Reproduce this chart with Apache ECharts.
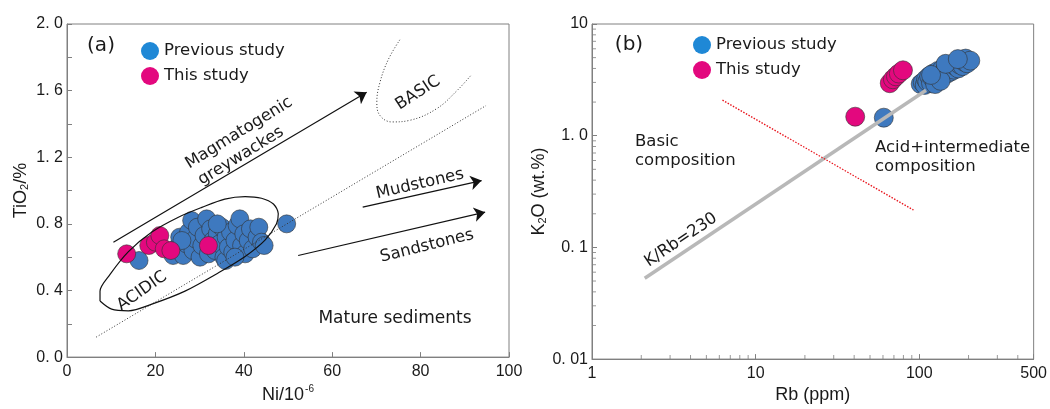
<!DOCTYPE html>
<html>
<head>
<meta charset="utf-8">
<script src="https://cdn.jsdelivr.net/npm/echarts@6/dist/echarts.min.js"></script>
<style>
  html, body { margin: 0; padding: 0; background: #fff; }
  #main { width: 1050px; height: 409px; }
</style>
</head>
<body>
<div id="main"></div>
<script>
// ---- panel (a): Ni vs TiO2 ----
var prevA = [
    [16.3, 0.58], [24, 0.61], [25, 0.66], [25.5, 0.72], [26.3, 0.61], [27, 0.68], [27.5, 0.75],
    [28.2, 0.82], [28.5, 0.64], [29, 0.71], [29.5, 0.78], [30.1, 0.60], [30.5, 0.67], [31, 0.73],
    [31.6, 0.83], [32, 0.62], [32.5, 0.77], [33, 0.70], [33.5, 0.64], [34, 0.74], [34.5, 0.68],
    [35, 0.78], [35.5, 0.60], [35.9, 0.58], [36, 0.72], [36.5, 0.66], [37, 0.75], [37.5, 0.63],
    [38, 0.70], [38.5, 0.79], [39.1, 0.83], [39.5, 0.67], [40, 0.74], [40.3, 0.62], [41, 0.70],
    [41.5, 0.77], [42, 0.65], [43, 0.72], [43.4, 0.78], [44, 0.69], [44.6, 0.67], [49.7, 0.80],
    [26, 0.70], [34, 0.80], [38, 0.60]
];
var thisA = [
    [13.5, 0.62], [18.5, 0.67], [20, 0.69], [21, 0.73], [22, 0.65], [23.5, 0.64], [32, 0.67]
];
var dividerA = [[6.6, 0.12], [94.8, 1.51]];
var basicCurve = [
    [75.3, 1.905], [72.7, 1.787], [70.8, 1.649], [70.1, 1.531], [70.8, 1.451], [73.5, 1.412],
    [77.6, 1.422], [83.6, 1.491], [88.2, 1.599], [91.6, 1.698]
];
var acidicField = [
    [7.47, 0.337], [10.1, 0.288], [13.9, 0.278], [19.2, 0.318], [26.7, 0.396], [34.2, 0.505],
    [40.3, 0.604], [44.8, 0.702], [47.4, 0.801], [47.8, 0.860], [46.7, 0.919], [44.0, 0.954],
    [40.3, 0.964], [35.7, 0.949], [30.5, 0.899], [25.2, 0.840], [19.2, 0.751], [13.9, 0.633],
    [9.7, 0.495], [7.47, 0.396], [7.47, 0.337]
];
var arrowsA = [
    [[10.5, 0.69], [67.8, 1.59]],   // magmatogenic greywackes
    [[66.9, 0.90], [93.8, 1.06]],   // mudstones
    [[52.3, 0.61], [94.6, 0.87]]    // sandstones
];

// ---- panel (b): Rb vs K2O ----
var prevB = [
    [60.7, 1.45],
    [102, 2.9], [105, 3.0], [108, 2.85], [110, 3.2], [112, 3.05], [115, 3.4], [118, 2.95],
    [120, 3.3], [122, 3.6], [125, 3.15], [128, 3.5], [130, 3.8], [132, 3.3], [135, 3.65],
    [138, 3.95], [140, 3.45], [143, 3.8], [146, 4.1], [148, 3.6], [150, 3.9], [153, 4.2],
    [156, 3.75], [158, 4.05], [160, 4.35], [163, 3.9], [166, 4.2], [170, 4.5], [173, 4.0],
    [176, 4.35], [180, 4.7], [184, 4.2], [188, 4.6], [192, 4.9], [196, 4.45], [205, 4.7],
    [125, 2.9], [135, 3.1], [118, 3.5], [145, 4.4], [172, 4.85]
];
var thisB = [[40.6, 1.48], [66, 2.95], [69, 3.2], [72, 3.4], [75, 3.6], [79.5, 3.85]];
var kRbLine = [[2.1, 0.053], [110, 2.55]];
var dividerB = [[6.27, 2.08], [92.2, 0.216]];

var yLabelsB = { '-2': '0. 01', '-1': '0. 1', '0': '1. 0', '1': '10' };
var minorX = [2, 3, 4, 5, 6, 7, 8, 9, 20, 30, 40, 50, 60, 70, 80, 90, 200, 300, 400];
var minorY = [0.02, 0.03, 0.04, 0.05, 0.06, 0.07, 0.08, 0.09, 0.2, 0.3, 0.4, 0.5, 0.6, 0.7, 0.8, 0.9,
    2, 3, 4, 5, 6, 7, 8, 9];

var FONT = 'Liberation Sans';
var TEXT = 'DejaVu Sans';
var INK = '#1a1a1a';
var AXIS = '#808080';
var BLUE = '#3e79bf';
var PINK = '#e3087e';

var nameRich = {
    n: { fontFamily: FONT, fontSize: 18, color: INK },
    sup: { fontFamily: FONT, fontSize: 10, color: INK, verticalAlign: 'top', padding: [0, 0, 12, 1] },
    sub: { fontFamily: FONT, fontSize: 11, color: INK, verticalAlign: 'bottom', padding: [6, 0, 0, 0] }
};

function baseAxis(gridIndex) {
    return {
        gridIndex: gridIndex,
        axisLine: { show: true, onZero: false, lineStyle: { color: AXIS, width: 1 } },
        axisTick: { show: true, inside: true, length: 5, lineStyle: { color: AXIS } },
        axisLabel: { color: INK, fontFamily: FONT, fontSize: 16 },
        splitLine: { show: false },
        nameLocation: 'middle',
        nameTextStyle: { color: INK, fontFamily: FONT, fontSize: 18, rich: nameRich }
    };
}

var dom = document.getElementById('main');
var myChart = echarts.init(dom);

var xA = baseAxis(0);
xA.type = 'value'; xA.min = 0; xA.max = 100; xA.interval = 20;
xA.axisLabel.margin = 6;
xA.name = '{n|Ni/10}{sup|-6}'; xA.nameGap = 24;

var yA = baseAxis(0);
yA.type = 'value'; yA.min = 0; yA.max = 2; yA.interval = 0.4;
yA.minorTick = { show: true, splitNumber: 2, length: 5, lineStyle: { color: AXIS } };
yA.axisLabel.margin = 4;
yA.axisLabel.formatter = function (v) { return v.toFixed(1).replace('.', '. '); };
yA.name = '{n|TiO}{sub|2}{n|/%}'; yA.nameGap = 37;

var xB = baseAxis(1);
xB.type = 'log'; xB.logBase = 10; xB.min = 1; xB.max = 500;
xB.axisLabel.margin = 6;
xB.axisLabel.showMaxLabel = true;
xB.axisLabel.formatter = function (v) { return String(Math.round(v)); };
xB.name = '{n|Rb (ppm)}'; xB.nameGap = 24;

var yB = baseAxis(1);
yB.type = 'log'; yB.logBase = 10; yB.min = 0.01; yB.max = 10;
yB.axisLabel.margin = 4;
yB.axisLabel.formatter = function (v) { return yLabelsB[String(Math.round(Math.log10(v)))] || ''; };
yB.name = '{n|K}{sub|2}{n|O (wt.%)}'; yB.nameGap = 33;

var scatterStyle = function (color) {
    return { color: color, borderColor: '#333', borderWidth: 0.6, opacity: 1 };
};
var legendData = [
    { name: 'Previous study', itemStyle: { color: '#1f88d6', borderWidth: 0 } },
    { name: 'This study', itemStyle: { color: PINK, borderWidth: 0 } }
];
var legendBase = {
    orient: 'vertical', icon: 'circle', itemWidth: 18, itemHeight: 18, itemGap: 7, itemStyle: { borderWidth: 0 },
    textStyle: { color: INK, fontFamily: TEXT, fontSize: 16.5 },
    selectedMode: false, data: legendData
};

function textEl(x, y, str, deg, size, align) {
    return {
        type: 'text', x: x, y: y, rotation: (deg || 0) * Math.PI / 180, z: 100,
        style: {
            text: str, fill: INK, font: (size || 16.5) + 'px "' + TEXT + '"',
            align: align || 'center', verticalAlign: 'middle', lineHeight: 19
        }
    };
}

// small log-axis minor ticks, placed through the axis scales
function tickSeries(data, size, offset) {
    return {
        type: 'scatter', xAxisIndex: 1, yAxisIndex: 1, data: data, silent: true, clip: false,
        symbol: 'rect', symbolSize: size, symbolOffset: offset, z: 1,
        itemStyle: { color: AXIS, borderWidth: 0 }
    };
}

var option = {
    animation: false,
    backgroundColor: '#fff',
    grid: [
        { left: 67, top: 24, width: 442, height: 338, show: true, borderColor: AXIS, borderWidth: 1 },
        { left: 592, top: 24, width: 447, height: 338, show: true, borderColor: AXIS, borderWidth: 1 }
    ],
    xAxis: [xA, xB],
    yAxis: [yA, yB],
    legend: [
        Object.assign({ left: 136, top: 37 }, legendBase),
        Object.assign({ left: 688, top: 31 }, legendBase)
    ],
    graphic: [
        textEl(101, 46, '(a)', 0, 20),
        textEl(239, 133, 'Magmatogenic', 31.6),
        textEl(241, 156, 'greywackes', 31.6),
        textEl(418, 93, 'BASIC', 33),
        textEl(420, 184, 'Mudstones', 13),
        textEl(427, 246, 'Sandstones', 14),
        textEl(142, 291, 'ACIDIC', 35),
        textEl(395, 319, 'Mature sediments', 0, 17),
        textEl(629, 45, '(b)', 0, 20),
        textEl(635, 151, 'Basic\ncomposition', 0, 16.5, 'left'),
        textEl(875, 157, 'Acid+intermediate\ncomposition', 0, 16.5, 'left'),
        textEl(681, 240, 'K/Rb=230', 34)
    ],
    series: [
        // panel (a) field lines
        { type: 'line', xAxisIndex: 0, yAxisIndex: 0, data: dividerA, symbol: 'none', silent: true,
          lineStyle: { color: '#333', width: 1, type: [1, 2] } },
        { type: 'line', xAxisIndex: 0, yAxisIndex: 0, data: basicCurve, symbol: 'none', smooth: 0.4, silent: true,
          lineStyle: { color: '#333', width: 1, type: [1, 2] } },
        { type: 'lines', coordinateSystem: 'cartesian2d', xAxisIndex: 0, yAxisIndex: 0, silent: true,
          symbol: ['none', 'arrow'], symbolSize: [0, 11],
          lineStyle: { color: '#111', width: 1.2, opacity: 1, curveness: 0 },
          data: arrowsA.map(function (c) { return { coords: c }; }) },
        { name: 'Previous study', type: 'scatter', xAxisIndex: 0, yAxisIndex: 0, data: prevA,
          symbolSize: 18, itemStyle: scatterStyle(BLUE) },
        { name: 'This study', type: 'scatter', xAxisIndex: 0, yAxisIndex: 0, data: thisA,
          symbolSize: 18, itemStyle: scatterStyle(PINK) },
        { type: 'line', xAxisIndex: 0, yAxisIndex: 0, data: acidicField, symbol: 'none', smooth: 0.3, silent: true,
          z: 5, lineStyle: { color: '#111', width: 1.2 } },
        // panel (b)
        tickSeries(minorX.map(function (v) { return [v, 0.01]; }), [1, 4], [0, -2]),
        tickSeries(minorY.map(function (v) { return [1, v]; }), [4, 1], [2, 0]),
        { type: 'line', xAxisIndex: 1, yAxisIndex: 1, data: kRbLine, symbol: 'none', silent: true,
          lineStyle: { color: '#b8b8b8', width: 3.5 } },
        { type: 'line', xAxisIndex: 1, yAxisIndex: 1, data: dividerB, symbol: 'none', silent: true,
          lineStyle: { color: '#e8131b', width: 1.3, type: [1.5, 1.5] } },
        { name: 'Previous study', type: 'scatter', xAxisIndex: 1, yAxisIndex: 1, data: prevB,
          symbolSize: 19, itemStyle: scatterStyle(BLUE) },
        { name: 'This study', type: 'scatter', xAxisIndex: 1, yAxisIndex: 1, data: thisB,
          symbolSize: 19, itemStyle: scatterStyle(PINK) }
    ]
};

myChart.setOption(option);
window.addEventListener('resize', myChart.resize);
</script>
</body>
</html>
